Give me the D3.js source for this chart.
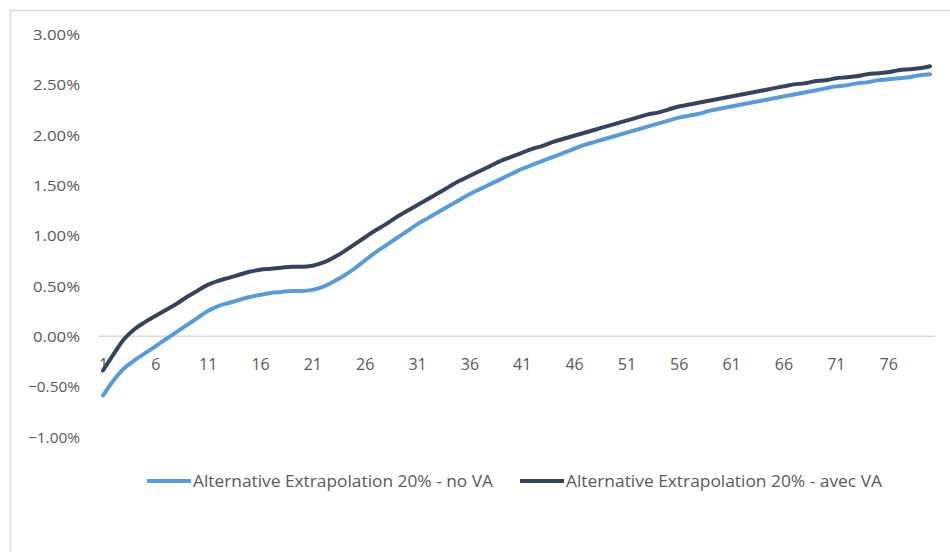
<!DOCTYPE html>
<html><head><meta charset="utf-8">
<script src="https://cdn.jsdelivr.net/npm/d3@7"></script>
<style>
html,body{margin:0;padding:0;background:#fff;}
svg{display:block;}
text{font-family:"Open Sans","Liberation Sans",Arial,sans-serif;fill:#595959;}
</style></head>
<body><svg id="c" width="950" height="552"></svg>
<script>
const categories = d3.range(1, 81);
const tickLabels = [1,6,11,16,21,26,31,36,41,46,51,56,61,66,71,76];
const yTicks = [-0.01,-0.005,0,0.005,0.01,0.015,0.02,0.025,0.03];
const seriesNames = ["Alternative Extrapolation 20% - no VA","Alternative Extrapolation 20% - avec VA"];
const noVA = [-0.59,-0.44,-0.32,-0.24,-0.17,-0.10,-0.03,0.04,0.11,0.18,0.25,0.30,0.33,0.36,0.39,0.41,0.43,0.44,0.45,0.45,
0.46,0.49,0.54,0.60,0.67,0.75,0.83,0.90,0.97,1.04,1.11,1.17,1.23,1.29,1.35,1.41,1.46,1.51,1.56,1.61,
1.66,1.70,1.74,1.78,1.82,1.86,1.90,1.93,1.96,1.99,2.02,2.05,2.08,2.11,2.14,2.17,2.19,2.21,2.24,2.26,
2.28,2.30,2.32,2.34,2.36,2.38,2.40,2.42,2.44,2.46,2.48,2.49,2.51,2.52,2.54,2.55,2.56,2.57,2.59,2.60];
const avecVA = [-0.34,-0.18,-0.03,0.07,0.14,0.20,0.26,0.32,0.39,0.45,0.51,0.55,0.58,0.61,0.64,0.66,0.67,0.68,0.69,0.69,
0.70,0.73,0.78,0.84,0.91,0.98,1.05,1.11,1.18,1.24,1.30,1.36,1.42,1.48,1.54,1.59,1.64,1.69,1.74,1.78,
1.82,1.86,1.89,1.93,1.96,1.99,2.02,2.05,2.08,2.11,2.14,2.17,2.20,2.22,2.25,2.28,2.30,2.32,2.34,2.36,
2.38,2.40,2.42,2.44,2.46,2.48,2.50,2.51,2.53,2.54,2.56,2.57,2.58,2.60,2.61,2.62,2.64,2.65,2.66,2.68];
const colors = ["#5B9BD5","#36435A"];

const svg = d3.select("#c");
svg.append("rect").attr("x",10.5).attr("y",10.5).attr("width",960).attr("height",560)
  .attr("fill","#fff").attr("stroke","#d9d9d9").attr("stroke-width",1.5);

const x = d3.scalePoint().domain(categories).range([103, 930]);
const y = d3.scaleLinear().domain([-0.01, 0.03]).range([437, 34]);

// y labels
const yAxis = d3.axisLeft(y).tickValues(yTicks).tickSize(0).tickPadding(0)
  .tickFormat(d3.format(".2%"));
const gy = svg.append("g").attr("transform","translate(80,0)").call(yAxis);
gy.select(".domain").remove();
gy.selectAll("text").style("font-size","15px").attr("fill","#595959").attr("dy","0.35em")
  .attr("textLength",function(){return this.textContent.length===5?47:52;}).attr("lengthAdjust","spacingAndGlyphs");

// zero line
svg.append("line").attr("x1",98).attr("x2",935).attr("y1",y(0)).attr("y2",y(0))
  .attr("stroke","#d9d9d9").attr("stroke-width",1.5);

// x labels
const xAxis = d3.axisBottom(x).tickValues(tickLabels).tickSize(0).tickPadding(0);
const gx = svg.append("g").attr("transform",`translate(0,${y(0)+28})`).call(xAxis);
gx.select(".domain").remove();
gx.selectAll("text").style("font-size","16px").attr("fill","#595959").attr("dy","0.35em");

const line = d3.line().x((d,i)=>x(categories[i])).y(d=>y(d/100)).curve(d3.curveMonotoneX);
[noVA, avecVA].forEach((s,k)=>{
  svg.append("path").datum(s).attr("d",line).attr("fill","none")
    .attr("stroke",colors[k]).attr("stroke-width",4).attr("stroke-linecap","round").attr("stroke-linejoin","round");
});

// legend
const legX = [147, 520];
const legW = [300, 316];
seriesNames.forEach((n,k)=>{
  const g = svg.append("g").attr("transform",`translate(${legX[k]},481)`);
  g.append("line").attr("x1",0).attr("x2",44).attr("stroke",colors[k]).attr("stroke-width",4);
  g.append("text").attr("x",46).attr("dy","0.35em").style("font-size","16px")
    .attr("textLength",legW[k]).attr("lengthAdjust","spacingAndGlyphs").text(n);
});
</script></body></html>
